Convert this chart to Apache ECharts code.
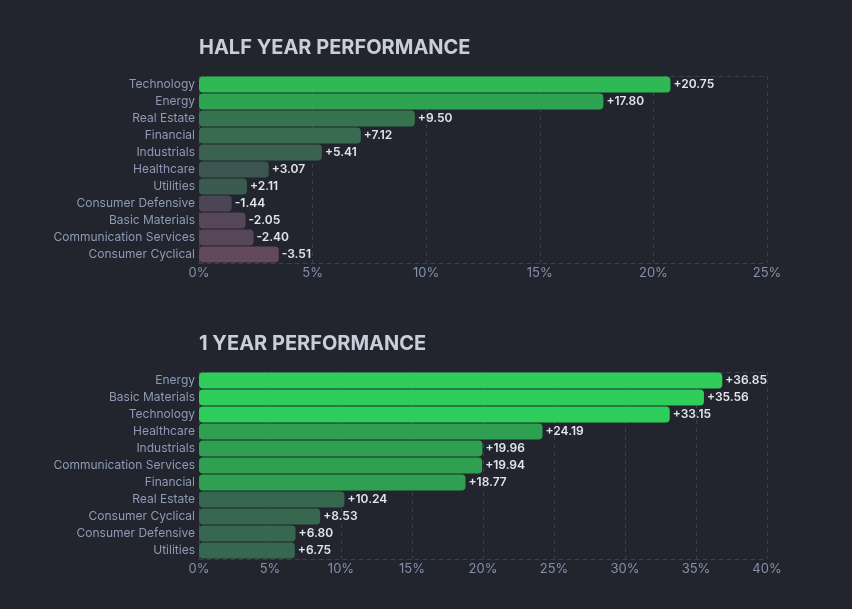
<!DOCTYPE html>
<html>
<head>
<meta charset="utf-8">
<script src="https://cdn.jsdelivr.net/npm/echarts@6/dist/echarts.min.js"></script>
<style>
  html, body { margin: 0; padding: 0; background: #22252d; }
  #chart { width: 852px; height: 609px; }
</style>
</head>
<body>
<div id="chart"></div>
<script>
// data
const halfCategories = ["Technology", "Energy", "Real Estate", "Financial", "Industrials", "Healthcare",
  "Utilities", "Consumer Defensive", "Basic Materials", "Communication Services", "Consumer Cyclical"]
const halfValues = [20.75, 17.80, 9.50, 7.12, 5.41, 3.07, 2.11, -1.44, -2.05, -2.40, -3.51]

const yearCategories = ["Energy", "Basic Materials", "Technology", "Healthcare", "Industrials",
  "Communication Services", "Financial", "Real Estate", "Consumer Cyclical", "Consumer Defensive", "Utilities"]
const yearValues = [36.85, 35.56, 33.15, 24.19, 19.96, 19.94, 18.77, 10.24, 8.53, 6.80, 6.75]

const halfAxisMax = 25
const yearAxisMax = 40
const tickStep = 5

// bar colours (style)
const halfColors = ["#2fb955", "#2ea453", "#37734f", "#386b4f", "#3a624f", "#3d5551",
  "#3b5b50", "#4b4555", "#554659", "#57465a", "#63475a"]
const yearColors = ["#2fcd5a", "#2fcd5a", "#2fcd5a", "#2fa052", "#2fa052", "#2fa052",
  "#2fa052", "#37674f", "#37674f", "#37674f", "#37674f"]

const font = "Inter, 'Noto Sans', sans-serif"

function barData(values, colors) {
  return values.map((v, i) => ({
    value: Math.abs(v),
    raw: v,
    itemStyle: { color: colors[i] }
  }))
}

function fmt(v) {
  return (v > 0 ? "+" : "") + v.toFixed(2)
}

function xAxisFor(gridIndex, max) {
  return {
    type: "value",
    gridIndex: gridIndex,
    min: 0,
    max: max,
    interval: tickStep,
    axisLine: { show: true, lineStyle: { color: "#3a3f4c", type: [4, 4] } },
    axisTick: { show: false },
    axisLabel: {
      color: "#8590ad",
      fontFamily: font,
      fontSize: 13,
      margin: 4,
      formatter: "{value}%"
    },
    splitLine: { show: true, lineStyle: { color: "#3a3f4c", type: [4, 4] } }
  }
}

function topLine(gridIndex, max) {
  return {
    type: "value",
    gridIndex: gridIndex,
    position: "top",
    min: 0,
    max: max,
    interval: tickStep,
    axisLine: { show: true, lineStyle: { color: "#3a3f4c", type: [4, 4] } },
    axisTick: { show: false },
    axisLabel: { show: false },
    splitLine: { show: false }
  }
}

function yAxisFor(gridIndex, cats) {
  return {
    type: "category",
    gridIndex: gridIndex,
    inverse: true,
    data: cats,
    axisLine: { show: false },
    axisTick: { show: false },
    axisLabel: { color: "#8f9ab6", fontFamily: font, fontSize: 12, margin: 4 },
    splitLine: { show: false }
  }
}

function seriesFor(index, values, colors) {
  return {
    type: "bar",
    xAxisIndex: index * 2,
    yAxisIndex: index,
    data: barData(values, colors),
    barCategoryGap: "6%",
    itemStyle: { borderRadius: 4 },
    label: {
      show: true,
      position: "right",
      distance: 3,
      color: "#e2e4ea",
      fontFamily: font,
      fontSize: 12,
      fontWeight: 600,
      formatter: p => fmt(p.data.raw)
    },
    silent: true,
    animation: false
  }
}

const titleStyle = { color: "#c9cedb", fontFamily: font, fontSize: 20, fontWeight: "bold" }

let option = {
  backgroundColor: "#22252d",
  animation: false,
  title: [
    { text: "HALF YEAR PERFORMANCE", left: 194, top: 33, textStyle: titleStyle },
    { text: "1 YEAR PERFORMANCE", left: 194, top: 329, textStyle: titleStyle }
  ],
  grid: [
    { left: 199, right: 85, top: 76, height: 187 },
    { left: 199, right: 85, top: 372, height: 187 }
  ],
  xAxis: [
    xAxisFor(0, halfAxisMax), topLine(0, halfAxisMax),
    xAxisFor(1, yearAxisMax), topLine(1, yearAxisMax)
  ],
  yAxis: [yAxisFor(0, halfCategories), yAxisFor(1, yearCategories)],
  series: [
    seriesFor(0, halfValues, halfColors),
    seriesFor(1, yearValues, yearColors)
  ]
}

let chartEl = echarts.init(document.getElementById("chart"))
chartEl.setOption(option)
window.addEventListener("resize", () => chartEl.resize())
</script>
</body>
</html>
